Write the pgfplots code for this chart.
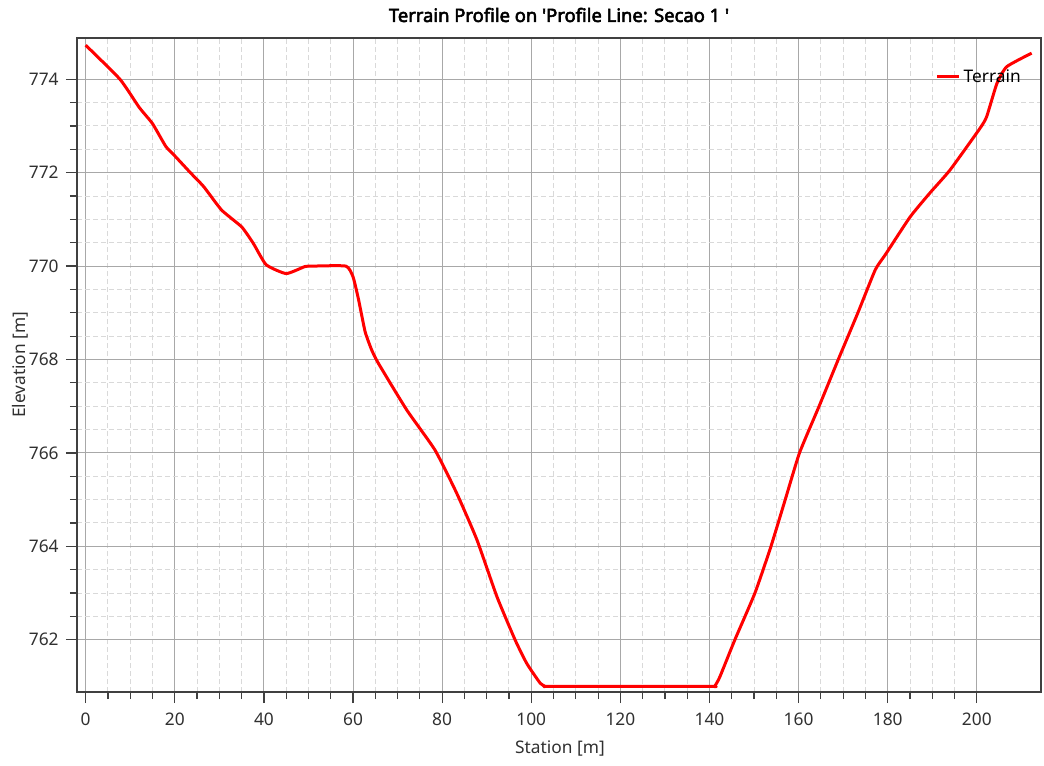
\documentclass[border=0pt]{standalone}
\usepackage{fontspec}
\setmainfont{Noto Sans}
\newfontfamily\titlefont{Noto Sans}[FakeBold=3]
\usepackage{pgfplots}
\pgfplotsset{compat=1.18}

\definecolor{framegray}{HTML}{404040}
\definecolor{majgrid}{HTML}{A8A8A8}
\definecolor{mingrid}{HTML}{D9D9D9}
\definecolor{ticktext}{HTML}{303030}

\begin{document}
\begin{tikzpicture}
% fix page size to the reference proportions (1 px = 0.75pt)
\path[use as bounding box] (-57.75pt,-54.75pt) rectangle (725.25pt,519pt);
\begin{axis}[
  at={(0,0)}, anchor=south west,
  scale only axis,
  width=723pt, height=490.7pt,
  xmin=-1.95, xmax=214.4,
  ymin=760.88, ymax=774.89,
  xtick={0,20,...,200},
  ytick={762,764,...,774},
  minor x tick num=3,
  minor y tick num=3,
  tick pos=left,
  tick align=outside,
  major tick length=8.25pt,
  minor tick length=5.25pt,
  every tick/.style={framegray, line width=0.9pt},
  axis line style={framegray, line width=1.4pt},
  grid=both,
  major grid style={majgrid, line width=0.8pt},
  minor grid style={mingrid, line width=0.75pt, dash pattern=on 3.75pt off 2.25pt},
  /pgf/number format/assume math mode=true,
  /pgf/number format/1000 sep={},
  tick label style={font=\fontsize{13}{15}\selectfont, text=ticktext},
  xticklabel style={yshift=-4pt},
  yticklabel style={xshift=-2pt},
  xlabel={Station [m]},
  ylabel={Elevation [m]},
  every axis x label/.style={at={(axis description cs:0.501,-0.0856)}, anchor=center, font=\fontsize{13}{15}\selectfont, text=ticktext},
  every axis y label/.style={at={(axis description cs:-0.0591,0.5)}, rotate=90, anchor=center, font=\fontsize{13}{15}\selectfont, text=ticktext},
  title={Terrain Profile on \textquotesingle Profile Line: Secao 1 \textquotesingle},
  every axis title/.style={at={(axis description cs:0.5,1.0347)}, anchor=center, font=\titlefont\fontsize{13.8}{16}\selectfont},
  legend style={at={(axis description cs:0.982,0.94)}, anchor=east, draw=none, fill=none,
    font=\fontsize{13}{15}\selectfont, inner sep=0pt},
  legend cell align=left,
  legend image code/.code={\draw[red, line width=2.25pt] (0pt,0pt) -- (16.5pt,0pt);},
]
\addplot[red, line width=2.25pt, line join=round, smooth, tension=0.3] coordinates {
(0,774.73) (7.7,774.0) (12,773.4) (15,773.05) (18,772.56) (20,772.36)
(23.5,772.0) (26.5,771.7) (30.5,771.2) (35,770.84) (37.6,770.49)
(40.5,770.03) (45,769.84) (49.2,769.99) (51,770.0) (58.4,770.0)
(60.0,769.77) (61.2,769.3) (62.7,768.6) (64.2,768.2) (65.8,767.9)
(72.05,766.92) (78.4,766.06)
(83.3,765.13) (87.8,764.14) (92.3,762.92) (96.4,761.99) (99.0,761.49)
(102.0,761.07) (103.2,761.0) (104.5,761.0) (139.8,761.0) (141.1,761.0)
(142.3,761.2) (145.7,762.0) (150.2,763.0) (153.8,764.0) (157.0,765.0) (160.2,766.0)
(164.6,767.0) (168.9,768.0) (173.3,769.0) (177.2,769.92) (179.5,770.25)
(185.0,771.05) (189.5,771.57) (194.0,772.06) (200.7,772.95) (202.2,773.2)
(204.5,773.91) (206.7,774.27) (212.3,774.56)
};
\addlegendentry{Terrain}
\end{axis}
\end{tikzpicture}
\end{document}
